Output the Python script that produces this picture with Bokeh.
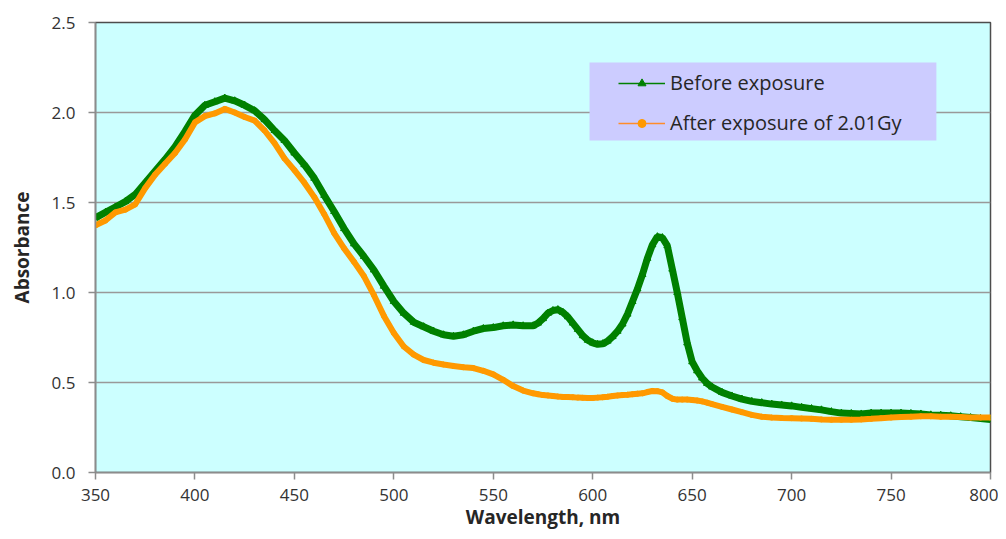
from bokeh.plotting import figure
from bokeh.models import (Range1d, SingleIntervalTicker, NumeralTickFormatter, Legend,
                          LegendItem, BoxAnnotation)
from bokeh.embed import file_html
from bokeh.resources import INLINE

# wavelengths (nm): 5 nm steps, 2.5 nm steps through the 570-660 nm band
wavelength = (list(range(350, 570, 5))
              + [570 + 2.5 * i for i in range(37)]
              + list(range(665, 801, 5)))

before_exposure = [
    1.415, 1.445, 1.475, 1.505, 1.545, 1.61, 1.675, 1.74, 1.81, 1.895,
    1.985, 2.04, 2.06, 2.08, 2.065, 2.04, 2.01, 1.96, 1.90, 1.845,
    1.775, 1.71, 1.635, 1.54, 1.45, 1.355, 1.27, 1.20, 1.125, 1.035,
    0.95, 0.885, 0.835, 0.81, 0.785, 0.765, 0.757, 0.765, 0.785, 0.80,
    0.805, 0.815, 0.82, 0.815,
    # 570 .. 660 every 2.5 nm
    0.815, 0.83, 0.855, 0.885, 0.90, 0.905, 0.89, 0.865, 0.83, 0.795,
    0.76, 0.735, 0.72, 0.712, 0.715, 0.73, 0.755, 0.785, 0.825, 0.88,
    0.95, 1.02, 1.10, 1.19, 1.265, 1.31, 1.305, 1.26, 1.13, 1.00,
    0.86, 0.72, 0.615, 0.565, 0.525, 0.495, 0.475,
    # 665 .. 800
    0.445, 0.425, 0.408, 0.395, 0.388, 0.38, 0.375,
    0.37, 0.362, 0.355, 0.348, 0.338, 0.33, 0.328, 0.325, 0.33, 0.33,
    0.33, 0.33, 0.328, 0.325, 0.32, 0.318, 0.315, 0.31, 0.305, 0.30,
    0.295,
]

after_exposure = [
    1.373, 1.40, 1.445, 1.46, 1.49, 1.58, 1.655, 1.715, 1.775, 1.85,
    1.945, 1.98, 1.995, 2.02, 2.00, 1.975, 1.955, 1.90, 1.83, 1.745,
    1.68, 1.61, 1.53, 1.435, 1.33, 1.245, 1.17, 1.09, 0.985, 0.87,
    0.775, 0.70, 0.655, 0.625, 0.61, 0.60, 0.592, 0.585, 0.58, 0.565,
    0.545, 0.515, 0.48, 0.455,
    # 570 .. 660 every 2.5 nm
    0.44, 0.435, 0.43, 0.428, 0.425, 0.422, 0.42, 0.419, 0.418, 0.416,
    0.415, 0.414, 0.414, 0.416, 0.418, 0.421, 0.425, 0.428, 0.43, 0.432,
    0.435, 0.438, 0.44, 0.447, 0.453, 0.452, 0.445, 0.425, 0.41, 0.405,
    0.405, 0.405, 0.403, 0.40, 0.395, 0.388, 0.38,
    # 665 .. 800
    0.365, 0.35, 0.335, 0.32, 0.31, 0.305, 0.303,
    0.302, 0.30, 0.298, 0.295, 0.293, 0.293, 0.293, 0.295, 0.298, 0.302,
    0.305, 0.308, 0.31, 0.312, 0.312, 0.31, 0.31, 0.308, 0.305, 0.305,
    0.305,
]

series_labels = ["Before exposure", "After exposure of 2.01Gy"]

FONT = "Open Sans"
GREEN = "#008000"
ORANGE = "#ff9900"

p = figure(width=998, height=539, output_backend="svg", toolbar_location=None,
           x_range=Range1d(350, 800), y_range=Range1d(0, 2.5),
           min_border_left=95, min_border_right=8, min_border_top=22,
           min_border_bottom=67)

p.background_fill_color = "#ccffff"
p.border_fill_color = "white"
p.outline_line_color = "#4d4d4d"
p.outline_line_width = 1.5

p.xgrid.visible = False
p.ygrid.grid_line_color = "#999999"
p.ygrid.grid_line_width = 1.5

p.xaxis.ticker = SingleIntervalTicker(interval=50)
p.yaxis.ticker = SingleIntervalTicker(interval=0.5)
p.yaxis.formatter = NumeralTickFormatter(format="0.0")

for ax in (p.xaxis[0], p.yaxis[0]):
    ax.axis_line_color = "#8c8c8c"
    ax.axis_line_width = 1.5
    ax.major_tick_line_color = "#8c8c8c"
    ax.major_tick_line_width = 1.5
    ax.major_tick_out = 7
    ax.major_tick_in = 0
    ax.minor_tick_line_color = None
    ax.major_label_text_font = FONT
    ax.major_label_text_font_size = "17px"
    ax.major_label_text_color = "#333333"
    ax.axis_label_text_font = FONT
    ax.axis_label_text_font_size = "19px"
    ax.axis_label_text_font_style = "bold"
    ax.axis_label_text_color = "#262626"

p.xaxis.axis_label = "Wavelength, nm"
p.yaxis.axis_label = "Absorbance"
p.yaxis.major_label_standoff = 13
p.xaxis.major_label_standoff = 9
p.xaxis.axis_label_standoff = 0
p.yaxis.axis_label_standoff = 14

g_line = p.line(wavelength, before_exposure, line_color=GREEN, line_width=7)
g_mark = p.scatter(wavelength, before_exposure, marker="triangle", size=7,
                   fill_color=GREEN, line_color=GREEN)
o_line = p.line(wavelength, after_exposure, line_color=ORANGE, line_width=6)
o_mark = p.scatter(wavelength, after_exposure, marker="circle", size=5,
                   fill_color=ORANGE, line_color=ORANGE)

# legend panel
panel = BoxAnnotation(left=598.4, right=772.8, bottom=1.844, top=2.278,
                      fill_color="#ccccff", fill_alpha=1.0, line_color=None)
p.add_layout(panel)

# legend glyphs (thin line with small marker, as in reference)
lg1 = p.line([None], [None], line_color=GREEN, line_width=1.5)
lm1 = p.scatter([None], [None], marker="triangle", size=6, fill_color=GREEN, line_color=GREEN)
lg2 = p.line([None], [None], line_color="#ff8c2a", line_width=1.5)
lm2 = p.scatter([None], [None], marker="circle", size=4, fill_color=ORANGE, line_color=ORANGE)

legend = Legend(items=[LegendItem(label=series_labels[0], renderers=[lg1, lm1]),
                       LegendItem(label=series_labels[1], renderers=[lg2, lm2])],
                location=(523, 336))
legend.background_fill_alpha = 0.0
legend.border_line_color = None
legend.padding = 0
legend.margin = 0
legend.spacing = 13
legend.label_height = 20
legend.glyph_height = 20
legend.glyph_width = 47
legend.label_standoff = 5
legend.label_text_font = FONT
legend.label_text_font_size = "20px"
legend.label_text_color = "#262626"
p.add_layout(legend)

open("out.html", "w").write(file_html(p, INLINE))
